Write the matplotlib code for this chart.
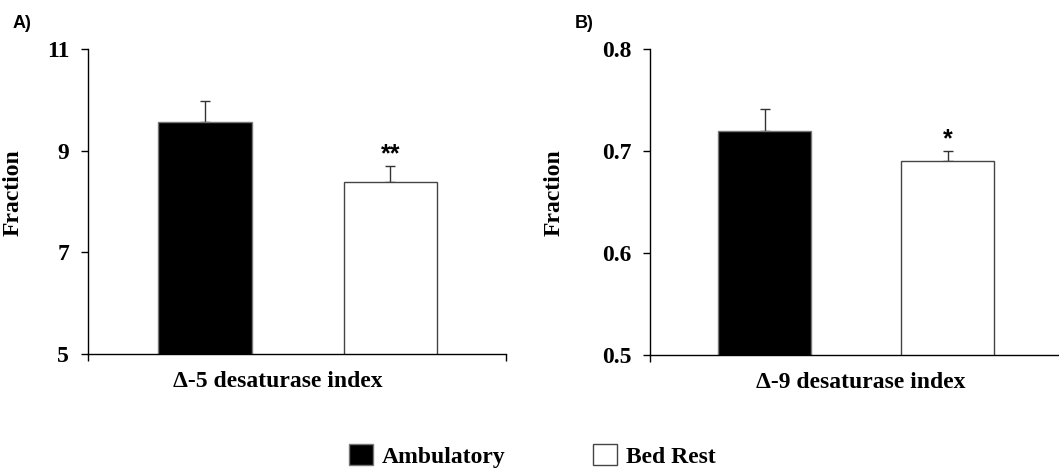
import matplotlib.pyplot as plt
from matplotlib.ticker import FixedLocator

# data
groups = ['Ambulatory', 'Bed Rest']
d5_mean = [9.57, 8.38]
d5_err = [0.40, 0.32]
d9_mean = [0.720, 0.690]
d9_err = [0.021, 0.010]
stars_a = ['', '**']
stars_b = ['', '*']

serif = ['Liberation Serif', 'DejaVu Serif']
sans = ['Liberation Sans', 'DejaVu Sans']
plt.rcParams['font.family'] = serif
plt.rcParams['font.weight'] = 'bold'

fig = plt.figure(figsize=(10.59, 4.68), dpi=100)
axA = fig.add_axes([0.0831, 0.2436, 0.3947, 0.6517])
axB = fig.add_axes([0.6138, 0.2415, 0.3886, 0.6538])

colors = ['black', 'white']
edges = ['#777777', '#444444']


def panel(ax, means, errs, stars, ylim, yticks, fmt, xlab, xlab_x, xlim, lx):
    x = [0, 1]
    bars = ax.bar(x, means, width=0.505, color=colors, edgecolor=edges,
                  linewidth=1.0, zorder=2)
    ax.errorbar(x, means, yerr=[[0, 0], errs], fmt='none', ecolor='#333333',
                elinewidth=1.0, capsize=3.5, capthick=1.0, zorder=1)
    for xi, m, e, s in zip(x, means, errs, stars):
        if s:
            ax.annotate(s, (xi, m + e), xytext=(0, 0), textcoords='offset points',
                        ha='center', va='bottom', fontsize=18, family=sans,
                        fontweight='bold')
    ax.set_ylim(*ylim)
    ax.set_xlim(*xlim)
    ax.yaxis.set_major_locator(FixedLocator(yticks))
    ax.set_yticklabels([fmt.format(t) for t in yticks], fontsize=17, fontweight='bold')
    ax.xaxis.set_major_locator(FixedLocator(list(xlim)))
    ax.set_xticklabels([])
    ax.tick_params(axis='y', direction='out', length=5, width=1, pad=8.5)
    ax.tick_params(axis='x', direction='out', length=5, width=1)
    for sp in ['top', 'right']:
        ax.spines[sp].set_visible(False)
    for sp in ['left', 'bottom']:
        ax.spines[sp].set_linewidth(1.0)
    ax.set_ylabel('Fraction', fontsize=17, fontweight='bold')
    ax.yaxis.set_label_coords(lx, 0.53)
    ax.set_xlabel(xlab, fontsize=17, fontweight='bold')
    ax.xaxis.set_label_coords(xlab_x, -0.055)
    ax.xaxis.label.set_va('top')
    return bars


bars = panel(axA, d5_mean, d5_err, stars_a, (5, 11), [5, 7, 9, 11], '{:g}',
             'Δ-5 desaturase index', 0.455, (-0.631, 1.623), -0.155)
panel(axB, d9_mean, d9_err, stars_b, (0.5, 0.8), [0.5, 0.6, 0.7, 0.8], '{:.1f}',
      'Δ-9 desaturase index', 0.513, (-0.626, 1.623), -0.207)

fig.text(13 / 1059, 1 - 24 / 468, 'A)', fontsize=13, family=sans,
         fontweight='bold', ha='left', va='center')
fig.text(575 / 1059, 1 - 24 / 468, 'B)', fontsize=13, family=sans,
         fontweight='bold', ha='left', va='center')

fig.legend(bars, groups, loc='center', bbox_to_anchor=(0.503, 0.026), ncol=2,
           frameon=False, handlelength=1.0, handleheight=1.0,
           handletextpad=0.4, columnspacing=3.7, prop={'weight': 'bold', 'size': 17})

fig.savefig('out.png', dpi=100)
